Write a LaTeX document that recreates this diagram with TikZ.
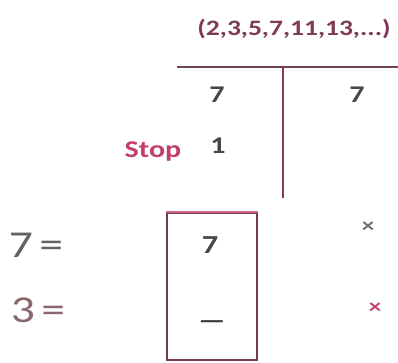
\documentclass[tikz,border=0pt]{standalone}
\usepackage{fontspec}
\newfontfamily\calib{Carlito}[FakeStretch=1.25]
\usetikzlibrary{positioning}

\definecolor{grautext}{HTML}{4A4646}
\definecolor{weinrot}{HTML}{7E3A58}
\definecolor{stoprot}{HTML}{C0406A}
\definecolor{linie}{HTML}{6A4850}
\definecolor{kante}{HTML}{8A3A4A}

\tikzset{
  zahl/.style={anchor=base, text=grautext, inner sep=0pt, font=\calib\bfseries\fontsize{24}{24}\selectfont},
  gross/.style={anchor=base, text=grautext!85, inner sep=0pt, font=\calib\fontsize{38}{38}\selectfont},
  kreuz/.style={inner sep=0pt, font=\calib\bfseries\fontsize{20}{20}\selectfont}
}

\begin{document}
\begin{tikzpicture}[x=1pt, y=-1pt]
\useasboundingbox (0,0) rectangle (398,362);

% Primzahlen
\node[anchor=base, text=weinrot, inner sep=0pt, font=\calib\bfseries\fontsize{22}{22}\selectfont] (prim) at (294,35) {(2,3,5,7,11,13,...)};

% Tafel
\coordinate (hl) at (177,67);
\coordinate (hr) at (398,67);
\coordinate (vt) at (283,67);
\coordinate (vb) at (283,198);
\draw[linie, line width=2.2pt] (hl) -- (hr);
\draw[kante, line width=1.6pt] (vt) -- (vb);

% Zahlen in der Tafel
\node[zahl] (links) at (217,102) {7};
\node[zahl] (rechts) at (357,102) {7};
\node[zahl, text=stoprot] (stop) at (153,157) {Stop};
\node[zahl] (eins) at (218,153) {1};

% Ergebnis
\node[gross] (sieben) at (36,257) {7\,=};
\node[gross, text=kante!55!grautext!80] (drei) at (38,322) {3\,=};

% Kasten
\node[draw=kante!70!grautext, line width=1.6pt, minimum width=90pt, minimum height=147pt, inner sep=0pt] (box) at (212,286.5) {};
\draw[stoprot!80, line width=2pt] (box.north west) -- (box.north east);
\node[zahl, font=\calib\bfseries\fontsize{26}{26}\selectfont] (boxsieben) at (210,253) {7};
\node[text=grautext!80!black, inner sep=0pt, font=\calib\bfseries\fontsize{24}{24}\selectfont] (strich) at (212,325) {—};

% Kreuze
\node[kreuz, text=grautext!80] (x1) at (368,227) {×};
\node[kreuz, text=stoprot] (x2) at (375,308) {×};

\end{tikzpicture}
\end{document}
